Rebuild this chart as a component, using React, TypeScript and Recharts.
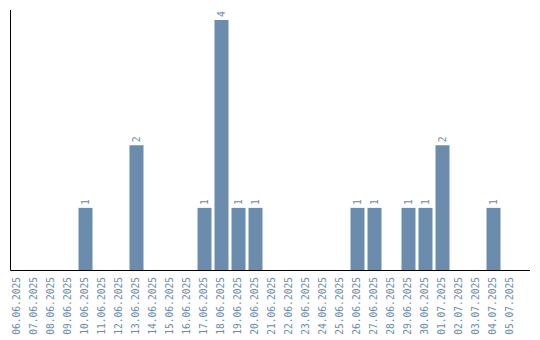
import React from "react";
import { BarChart, Bar, XAxis, YAxis, LabelList } from "recharts";

const categories = [
  "06.06.2025", "07.06.2025", "08.06.2025", "09.06.2025", "10.06.2025",
  "11.06.2025", "12.06.2025", "13.06.2025", "14.06.2025", "15.06.2025",
  "16.06.2025", "17.06.2025", "18.06.2025", "19.06.2025", "20.06.2025",
  "21.06.2025", "22.06.2025", "23.06.2025", "24.06.2025", "25.06.2025",
  "26.06.2025", "27.06.2025", "28.06.2025", "29.06.2025", "30.06.2025",
  "01.07.2025", "02.07.2025", "03.07.2025", "04.07.2025", "05.07.2025",
];
const counts = [
  0, 0, 0, 0, 1,
  0, 0, 2, 0, 0,
  0, 1, 4, 1, 1,
  0, 0, 0, 0, 0,
  1, 1, 0, 1, 1,
  2, 0, 0, 1, 0,
];

const data = categories.map((c, i) => ({ date: c, value: counts[i] }));

const BLUE = "#6b8cac";
const FONT = "'DejaVu Sans Mono', monospace";
const AXIS_Y = 270.5;

const XTick = (props: any) => {
  const { x, payload } = props;
  const ty = AXIS_Y + 6.5;
  return (
    <text
      x={x}
      y={ty}
      transform={`rotate(-90, ${x}, ${ty})`}
      textAnchor="end"
      dy="0.35em"
      fill={BLUE}
      fontSize={9.6}
      fontFamily={FONT}
    >
      {payload.value}
    </text>
  );
};

const BarLabel = (props: any) => {
  const { x, y, width, value } = props;
  if (!value) return null;
  const cx = x + width / 2;
  const ty = y - 3;
  return (
    <text
      x={cx}
      y={ty}
      transform={`rotate(-90, ${cx}, ${ty})`}
      textAnchor="start"
      dy="0.35em"
      fill={BLUE}
      fontSize={9.6}
      fontFamily={FONT}
    >
      {value}
    </text>
  );
};

export default function App() {
  return (
    <div style={{ position: "fixed", left: 0, top: 0, background: "#fff" }}>
      <BarChart
        width={540}
        height={340}
        data={data}
        margin={{ top: 10, right: 10, left: 9.5, bottom: 0 }}
        barSize={14}
      >
        <XAxis
          dataKey="date"
          interval={0}
          height={69.5}
          tickLine={false}
          axisLine={{ stroke: "#000" }}
          tick={<XTick />}
          padding={{ left: -2, right: 11.5 }}
        />
        <YAxis
          width={1}
          domain={[0, 4]}
          tick={false}
          tickLine={false}
          axisLine={{ stroke: "#000" }}
          padding={{ top: 10, bottom: 0 }}
        />
        <Bar dataKey="value" fill={BLUE} isAnimationActive={false}>
          <LabelList dataKey="value" content={<BarLabel />} />
        </Bar>
      </BarChart>
    </div>
  );
}
